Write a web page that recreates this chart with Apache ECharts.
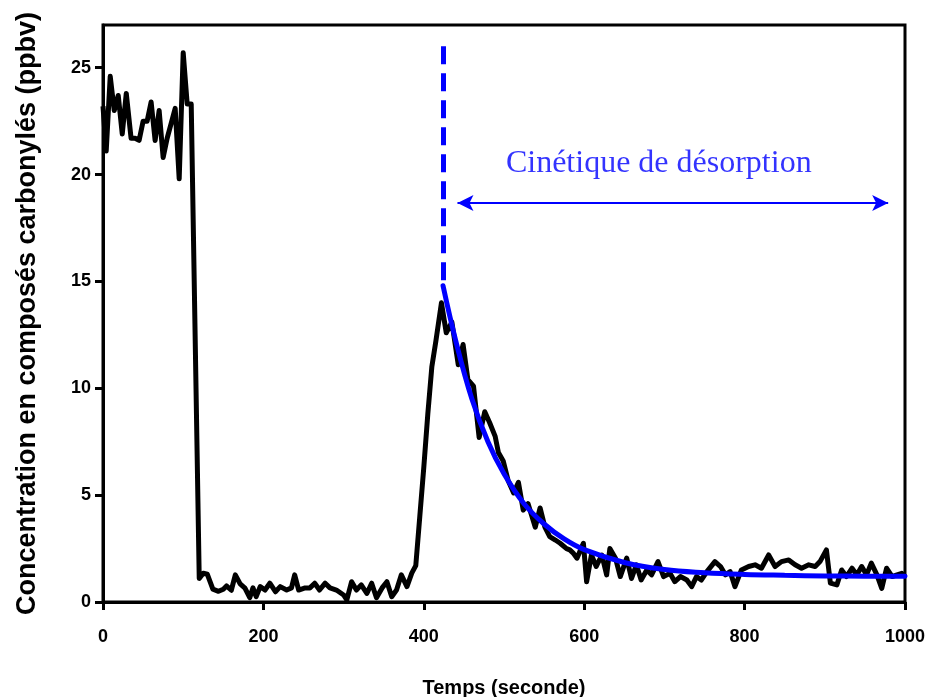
<!DOCTYPE html>
<html>
<head>
<meta charset="utf-8">
<script src="https://cdn.jsdelivr.net/npm/echarts@6/dist/echarts.min.js"></script>
<style>
html,body{margin:0;padding:0;background:#fff;}
#chart{width:932px;height:697px;}
</style>
</head>
<body>
<div id="chart"></div>
<script>
// Measured concentration (ppbv) versus time (s)
var timeSec = [0,4,9,14,19,24,29,35,40,45,50,55,60,65,70,75,80,85,90,95,100,105,110,120,125,130,137,144,150,154,160,165,171,177,183,187,191,196,202,208,215,221,229,235,239,244,252,258,264,270,277,283,291,300,304,310,316,322,329,335,341,348,354,360,366,372,379,385,390,395,400,405,410,415,422,428,435,443,449,455,462,469,476,482,489,493,499,505,512,518,524,530,539,545,551,557,564,570,578,582,586,591,599,603,609,615,622,628,632,639,645,653,659,665,671,678,684,692,699,707,713,720,728,734,740,746,753,763,770,776,782,788,796,805,813,821,830,838,846,855,863,871,880,888,894,902,907,915,921,927,934,940,946,952,958,965,971,977,984,990,996,1000];
var concentration = [23.2,21.1,24.6,23.0,23.7,21.9,23.8,21.7,21.7,21.6,22.5,22.5,23.4,21.6,23.0,20.8,21.7,22.4,23.1,19.8,25.7,23.3,23.3,1.1,1.35,1.3,0.6,0.5,0.6,0.75,0.55,1.27,0.85,0.65,0.2,0.66,0.25,0.72,0.56,0.88,0.48,0.72,0.56,0.66,1.27,0.56,0.66,0.66,0.88,0.56,0.88,0.66,0.56,0.33,0.1,0.95,0.56,0.8,0.4,0.88,0.2,0.66,0.95,0.25,0.56,1.27,0.72,1.35,1.7,4.0,6.3,8.8,11.0,12.2,14.0,12.6,13.1,11.1,12.05,10.4,10.1,7.7,8.9,8.4,7.75,7.0,6.6,5.7,5.1,5.6,4.3,4.6,3.5,4.4,3.5,3.06,2.9,2.75,2.5,2.44,2.3,2.05,2.75,0.95,2.2,1.66,2.2,1.27,2.5,2.05,1.19,2.05,1.1,1.74,1.03,1.5,1.27,1.89,1.19,1.34,0.95,1.19,1.03,0.72,1.19,1.03,1.42,1.89,1.66,1.27,1.42,0.72,1.5,1.66,1.74,1.58,2.2,1.66,1.89,1.97,1.74,1.58,1.74,1.66,1.89,2.44,0.88,0.8,1.5,1.19,1.58,1.27,1.66,1.27,1.82,1.27,0.64,1.58,1.19,1.27,1.34,1.2];

// Desorption kinetics fit curve
var fitTime  = [424,440,460,480,500,525,550,575,600,650,700,750,800,850,900,950,1000];
var fitValue = [14.8,12.2,9.5,7.5,6.0,4.6,3.65,2.95,2.45,1.85,1.52,1.37,1.29,1.25,1.22,1.21,1.2];

// Annotations
var startTime = 424;
var dashTop = 26.0;
var arrowStart = 442, arrowEnd = 979, arrowLevel = 18.67;
var annotationText = 'Cinétique de désorption';
var annotationX = 693, annotationY = 20.5;

var xTicks = [0,200,400,600,800,1000];
var yTicks = [0,5,10,15,20,25];

var measured = timeSec.map(function(t,i){return [t, concentration[i]];});
var fit = fitTime.map(function(t,i){return [t, fitValue[i]];});

var chart = echarts.init(document.getElementById('chart'));
var font = 'Liberation Sans, Arial, sans-serif';
chart.setOption({
  animation:false,
  backgroundColor:'#fff',
  grid:{left:103,right:27,top:25,bottom:95,show:true,borderColor:'#000',borderWidth:3,backgroundColor:'transparent',
    containLabel:false,outerBoundsMode:'none'},
  xAxis:{
    type:'value',min:0,max:1000,interval:200,
    name:'Temps (seconde)',nameLocation:'middle',nameGap:76,
    nameTextStyle:{fontFamily:font,fontWeight:'bold',fontSize:20,color:'#000'},
    axisLine:{show:true,lineStyle:{color:'#000',width:3}},
    axisTick:{show:true,inside:false,length:8,lineStyle:{color:'#000',width:3},customValues:xTicks},
    axisLabel:{fontFamily:font,fontWeight:'bold',fontSize:18,color:'#000',margin:26,customValues:xTicks,
      formatter:function(v){return String(v);}},
    splitLine:{show:false}
  },
  yAxis:{
    type:'value',min:0,max:27,interval:5,
    name:'Concentration en composés carbonylés (ppbv)',nameLocation:'middle',nameGap:62,
    nameTextStyle:{fontFamily:font,fontWeight:'bold',fontSize:27,color:'#000'},
    axisLine:{show:true,lineStyle:{color:'#000',width:3}},
    axisTick:{show:true,inside:false,length:8,lineStyle:{color:'#000',width:3},customValues:yTicks},
    axisLabel:{fontFamily:font,fontWeight:'bold',fontSize:18,color:'#000',margin:12,customValues:yTicks,
      formatter:function(v){return String(v);}},
    splitLine:{show:false}
  },
  series:[
    {
      type:'line',data:measured,symbol:'none',
      lineStyle:{color:'#000',width:5,join:'round'},
      z:2
    },
    {
      type:'line',data:fit,symbol:'none',smooth:0.4,
      lineStyle:{color:'#0000ff',width:5,cap:'round'},
      z:3,
      markLine:{
        silent:true,symbol:['none','none'],animation:false,
        label:{show:false},
        data:[
          [{coord:[startTime,dashTop],lineStyle:{color:'#0000ff',width:5,type:[18,9]}},{coord:[startTime,fitValue[0]]}],
          [{coord:[arrowStart,arrowLevel],symbol:'arrow',symbolSize:[12,16],lineStyle:{color:'#0000ff',width:2,type:'solid'}},{coord:[arrowEnd,arrowLevel],symbol:'arrow',symbolSize:[12,16]}]
        ]
      }
    },
    {
      type:'scatter',data:[[annotationX,annotationY]],symbolSize:0,silent:true,
      label:{show:true,position:'inside',formatter:annotationText,
        fontFamily:'Liberation Serif, Times New Roman, serif',fontSize:32,color:'#0000ff'},
      z:4
    }
  ]
});
</script>
</body>
</html>
